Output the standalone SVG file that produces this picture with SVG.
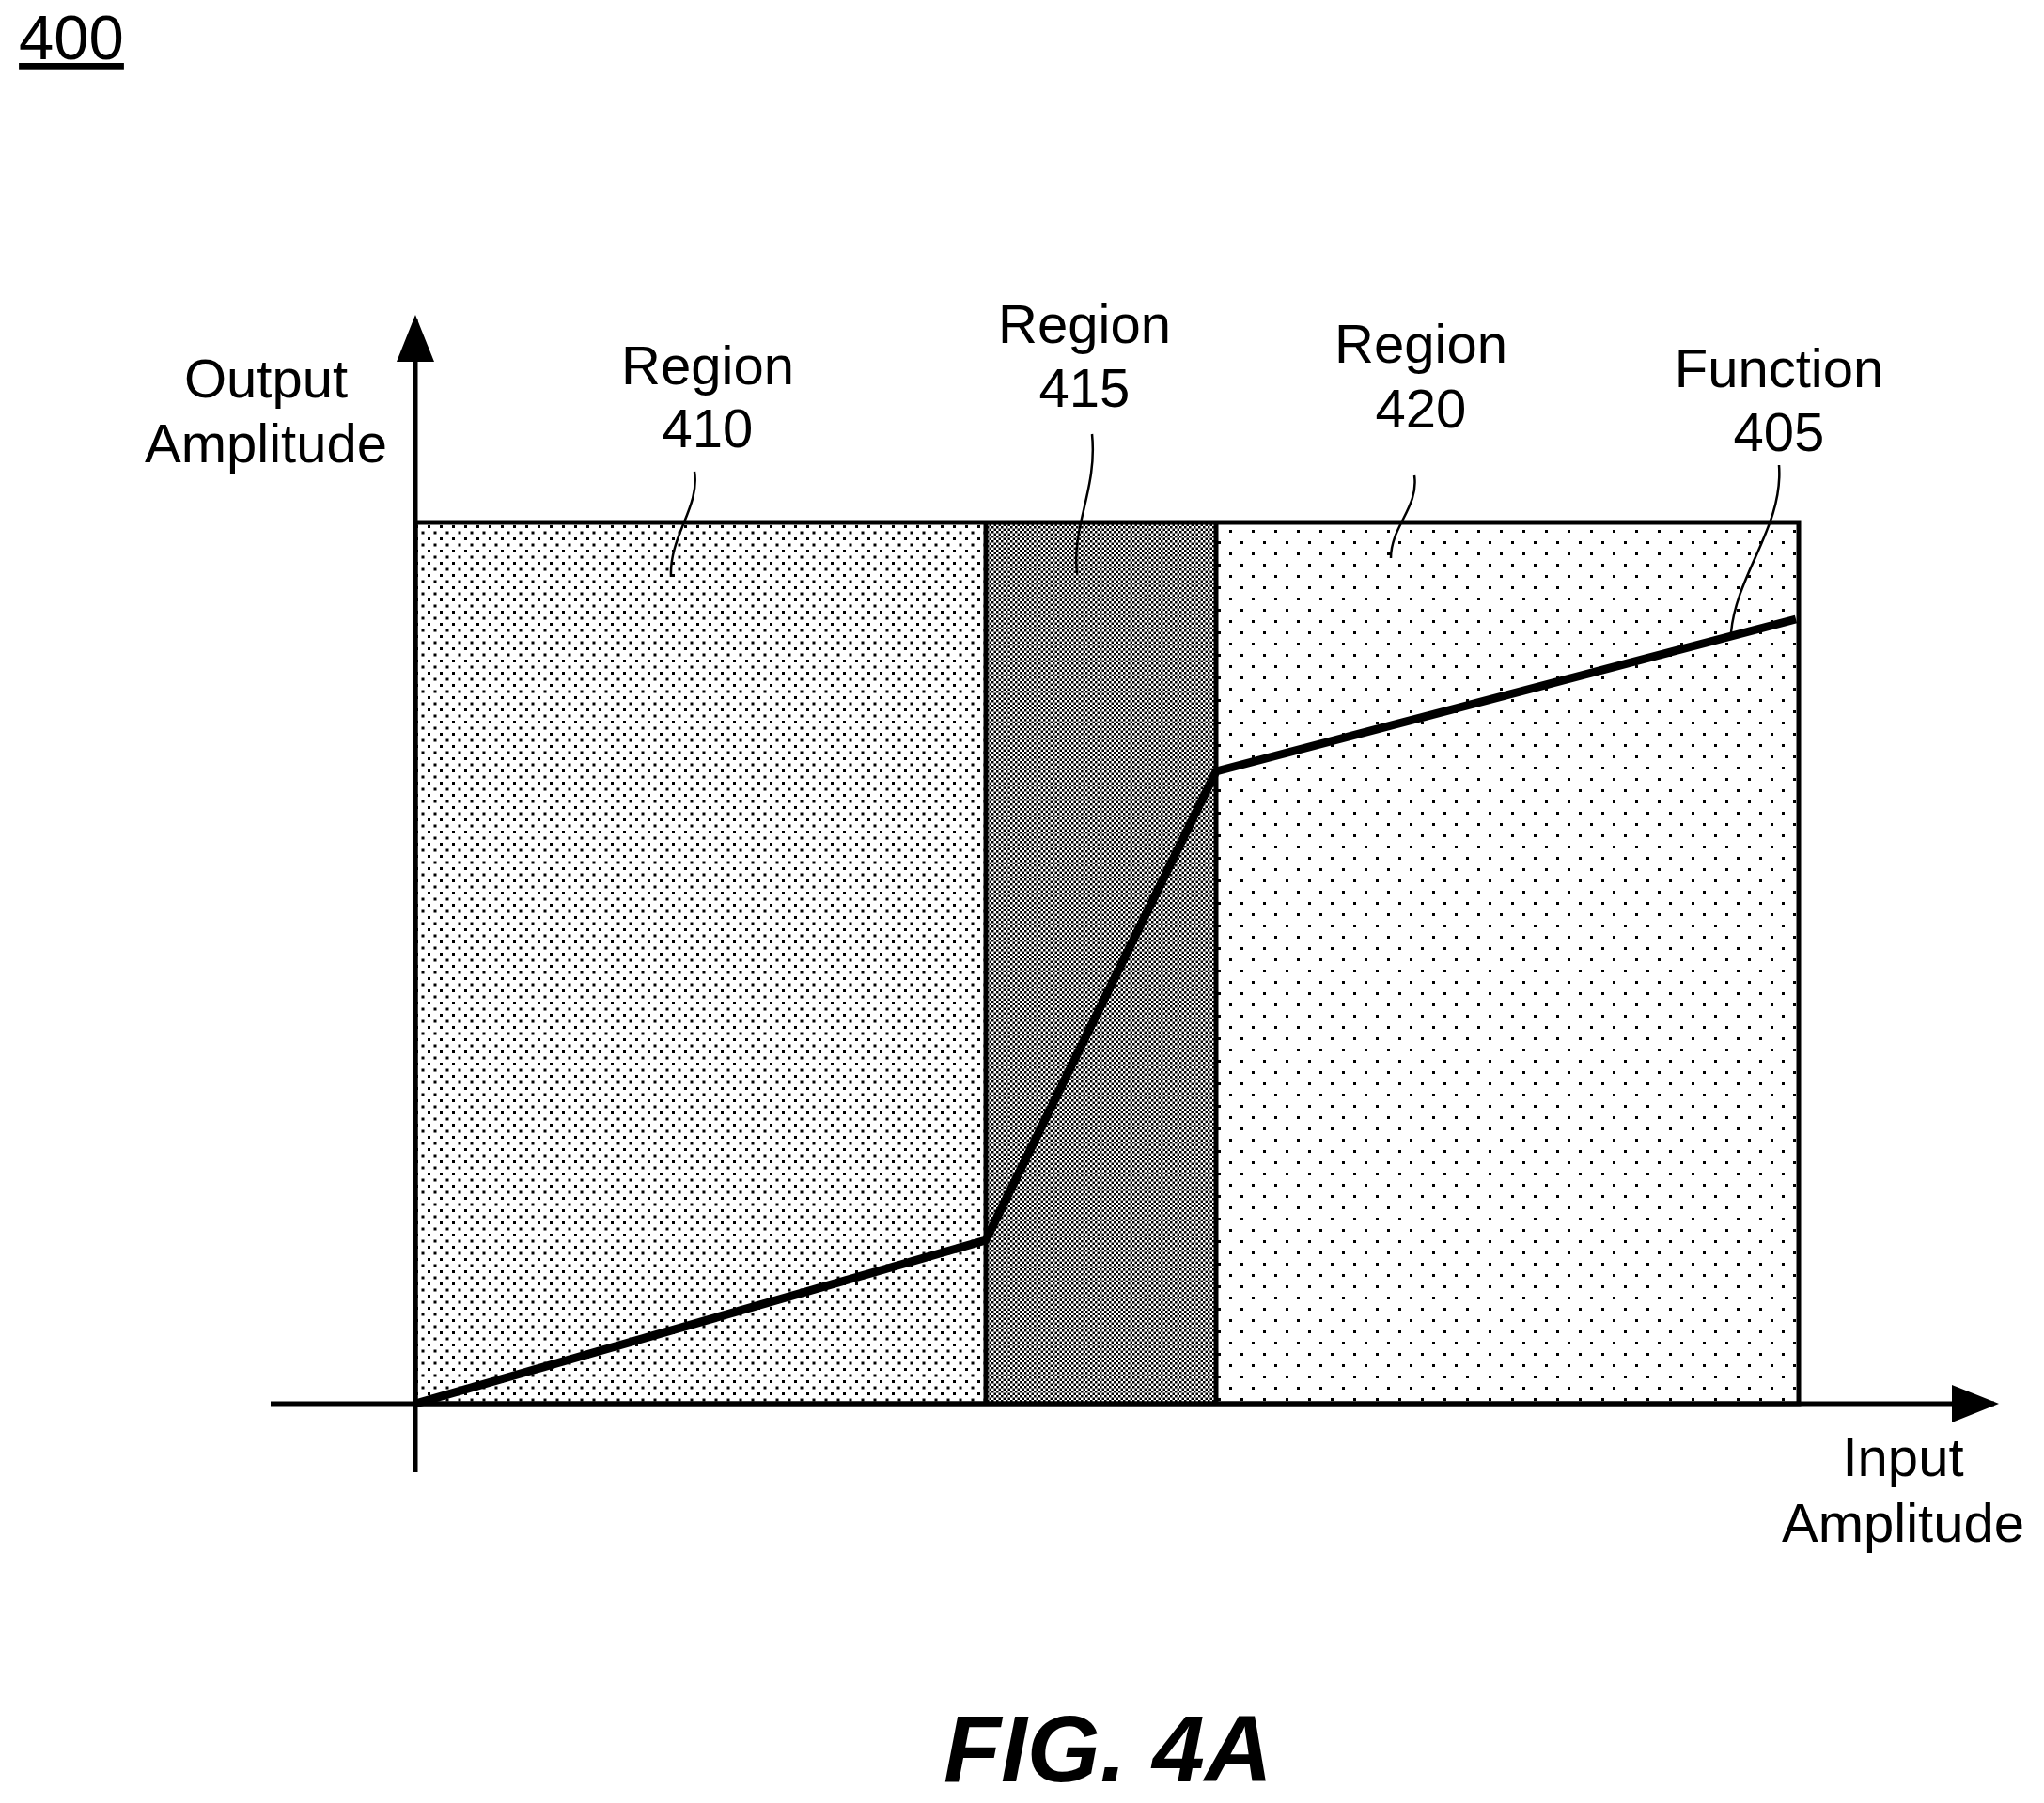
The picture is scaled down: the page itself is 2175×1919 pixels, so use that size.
<svg xmlns="http://www.w3.org/2000/svg" width="2175" height="1919" viewBox="0 0 2175 1919">
<style>
text{font-family:"Liberation Sans",Arial,sans-serif;font-size:58px;fill:#000;text-anchor:middle}
.ln{fill:none;stroke:#000;stroke-width:5}
.ld{fill:none;stroke:#000;stroke-width:2.5}
</style>
<defs>
<pattern id="p410" width="13" height="13" patternUnits="userSpaceOnUse"><rect width="13" height="13" fill="#fff"/><rect x="0" y="0" width="3" height="3" fill="#000"/><rect x="6.5" y="6.5" width="3" height="3" fill="#000"/></pattern>
<pattern id="p415" width="5" height="5" patternUnits="userSpaceOnUse"><rect width="5" height="5" fill="#fff"/><rect width="2.5" height="2.5" fill="#000"/><rect x="2.5" y="2.5" width="2.5" height="2.5" fill="#000"/></pattern>
<pattern id="p420" width="24" height="24" patternUnits="userSpaceOnUse"><rect width="24" height="24" fill="#fff"/><rect x="0" y="0" width="3" height="3" fill="#000"/><rect x="12" y="12" width="3" height="3" fill="#000"/></pattern>
<marker id="ah" markerWidth="10" markerHeight="8" refX="9" refY="4" orient="auto" markerUnits="strokeWidth"><path d="M0,0 L10,4 L0,8 z" fill="#000"/></marker>
</defs>
<g id="title"><text x="76" y="63" style="font-size:67px;text-decoration:underline">400</text></g>
<g id="region410"><rect x="442" y="556" width="607" height="938" fill="url(#p410)"/></g>
<g id="region415"><rect x="1049" y="556" width="245" height="938" fill="url(#p415)"/></g>
<g id="region420"><rect x="1294" y="556" width="620" height="938" fill="url(#p420)"/></g>
<g id="frame"><rect x="442" y="556" width="1472" height="938" class="ln"/><line x1="1049" y1="556" x2="1049" y2="1494" class="ln"/><line x1="1294" y1="556" x2="1294" y2="1494" class="ln"/></g>
<g id="connectors">
<line x1="442" y1="1567" x2="442" y2="340" class="ln" marker-end="url(#ah)"/>
<line x1="288" y1="1494" x2="2122" y2="1494" class="ln" marker-end="url(#ah)"/>
<polyline points="442,1494 1049,1320 1294,821 1911,659" fill="none" stroke="#000" stroke-width="9" stroke-linejoin="round"/>
<path d="M739,502 C745,540 712,570 714,614" class="ld"/>
<path d="M1162,462 C1168,520 1140,560 1146,610" class="ld"/>
<path d="M1505,506 C1510,540 1480,560 1480,594" class="ld"/>
<path d="M1893,495 C1898,560 1848,610 1842,673" class="ld"/>
</g>
<g id="labels">
<text x="283" y="423">Output</text><text x="283" y="492">Amplitude</text>
<text x="753" y="409">Region</text><text x="753" y="476">410</text>
<text x="1154" y="365">Region</text><text x="1154" y="433">415</text>
<text x="1512" y="386">Region</text><text x="1512" y="455">420</text>
<text x="1893" y="412">Function</text><text x="1893" y="480">405</text>
<text x="2025" y="1571">Input</text><text x="2025" y="1641">Amplitude</text>
<text x="1179" y="1896" style="font-size:100px;font-weight:bold;font-style:italic">FIG. 4A</text>
</g>
</svg>
